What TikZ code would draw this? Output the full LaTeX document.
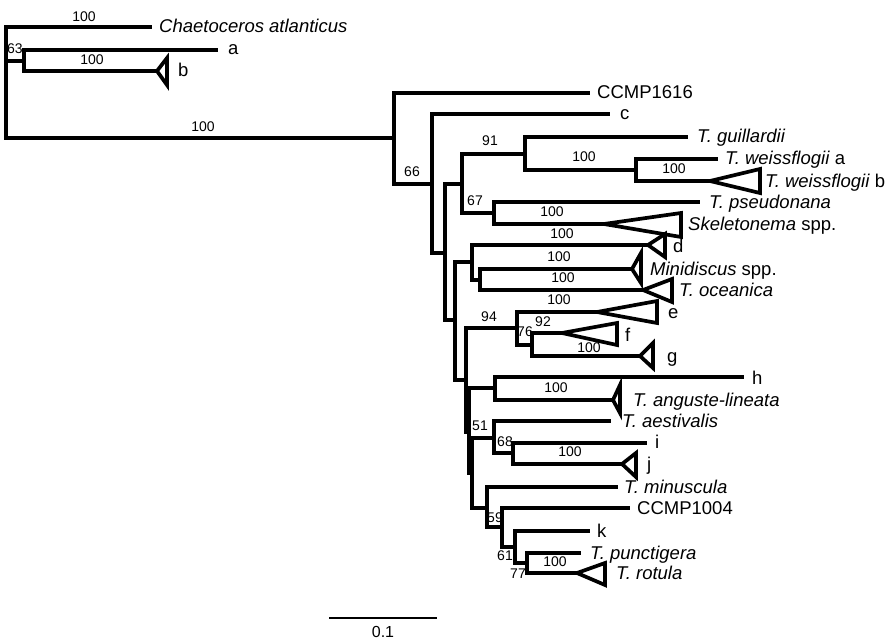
\documentclass[tikz,border=0pt]{standalone}
\usepackage{fontspec}
\setmainfont{Liberation Sans}
\begin{document}
\begin{tikzpicture}[x=1pt,y=-1pt,
  br/.style={line width=3.7pt},
  tri/.style={line width=3.7pt, line join=miter},
  taxon/.style={font=\fontsize{18.5}{20}\selectfont, anchor=base west, inner sep=0pt},
  bs/.style={font=\fontsize{14}{15}\selectfont, inner sep=0pt}]
\useasboundingbox (0,0) rectangle (892,642);
% internal nodes and tips
\coordinate (R) at (6,61);
\coordinate (chaet) at (152,27);
\coordinate (N63) at (24,61);
\coordinate (ta) at (218,50);
\coordinate (tb) at (157,71);
\coordinate (NI) at (394,138);
\coordinate (t1616) at (590,93);
\coordinate (N66) at (432,184);
\coordinate (tc) at (610,114);
\coordinate (N445) at (445,253);
\coordinate (N462) at (462,184);
\coordinate (N91) at (525,154);
\coordinate (tguil) at (688,137);
\coordinate (Nw) at (636,170);
\coordinate (twa) at (718,159);
\coordinate (twb) at (710,181);
\coordinate (N67) at (494,213);
\coordinate (tpseu) at (700,202);
\coordinate (tskel) at (604,224);
\coordinate (N455) at (455,320);
\coordinate (N472) at (472,262);
\coordinate (td) at (648,245);
\coordinate (N480) at (480,280);
\coordinate (tmini) at (632,269);
\coordinate (tocean) at (643,290);
\coordinate (N466) at (466,380);
\coordinate (N94) at (517,328);
\coordinate (te) at (597,312);
\coordinate (N76) at (532,345);
\coordinate (tf) at (562,333);
\coordinate (tg) at (640,356);
\coordinate (N469) at (469,432);
\coordinate (Nh) at (495,388);
\coordinate (th) at (744,377);
\coordinate (tang) at (613,400);
\coordinate (N472b) at (472,473);
\coordinate (N51) at (494,438);
\coordinate (taest) at (611,421);
\coordinate (N68) at (513,453);
\coordinate (ti) at (647,443);
\coordinate (tj) at (622,464);
\coordinate (N487) at (487,508);
\coordinate (tmin) at (618,487);
\coordinate (N59) at (502,527);
\coordinate (t1004) at (630,508);
\coordinate (N61) at (515,547);
\coordinate (tk) at (590,531);
\coordinate (N77) at (527,563);
\coordinate (tpunc) at (581,553);
\coordinate (trot) at (577,573);
% branches
\draw[br] (R) |- (chaet);
\draw[br] (R) |- (N63);
\draw[br] (R) |- (NI);
\draw[br] (N63) |- (ta);
\draw[br] (N63) |- (tb);
\draw[br] (NI) |- (t1616);
\draw[br] (NI) |- (N66);
\draw[br] (N66) |- (tc);
\draw[br] (N66) |- (N445);
\draw[br] (N445) |- (N462);
\draw[br] (N445) |- (N455);
\draw[br] (N462) |- (N91);
\draw[br] (N462) |- (N67);
\draw[br] (N91) |- (tguil);
\draw[br] (N91) |- (Nw);
\draw[br] (Nw) |- (twa);
\draw[br] (Nw) |- (twb);
\draw[br] (N67) |- (tpseu);
\draw[br] (N67) |- (tskel);
\draw[br] (N455) |- (N472);
\draw[br] (N455) |- (N466);
\draw[br] (N472) |- (td);
\draw[br] (N472) |- (N480);
\draw[br] (N480) |- (tmini);
\draw[br] (N480) |- (tocean);
\draw[br] (N466) |- (N94);
\draw[br] (N466) |- (N469);
\draw[br] (N94) |- (te);
\draw[br] (N94) |- (N76);
\draw[br] (N76) |- (tf);
\draw[br] (N76) |- (tg);
\draw[br] (N469) |- (Nh);
\draw[br] (N469) |- (N472b);
\draw[br] (Nh) |- (th);
\draw[br] (Nh) |- (tang);
\draw[br] (N472b) |- (N51);
\draw[br] (N472b) |- (N487);
\draw[br] (N51) |- (taest);
\draw[br] (N51) |- (N68);
\draw[br] (N68) |- (ti);
\draw[br] (N68) |- (tj);
\draw[br] (N487) |- (tmin);
\draw[br] (N487) |- (N59);
\draw[br] (N59) |- (t1004);
\draw[br] (N59) |- (N61);
\draw[br] (N61) |- (tk);
\draw[br] (N61) |- (N77);
\draw[br] (N77) |- (tpunc);
\draw[br] (N77) |- (trot);
% collapsed clades
\draw[tri] (tb) -- ++(10,-13) -- ++(0,27) -- cycle;
\draw[tri] (twb) -- ++(50,-12) -- ++(0,24) -- cycle;
\draw[tri] (tskel) -- ++(77,-11) -- ++(0,24) -- cycle;
\draw[tri] (td) -- ++(17,-11) -- ++(0,23) -- cycle;
\draw[tri] (tmini) -- ++(9,-16) -- ++(0,30) -- cycle;
\draw[tri] (tocean) -- ++(29,-11) -- ++(0,23) -- cycle;
\draw[tri] (te) -- ++(60,-11) -- ++(0,22) -- cycle;
\draw[tri] (tf) -- ++(55,-10) -- ++(0,22) -- cycle;
\draw[tri] (tg) -- ++(13,-13) -- ++(0,25) -- cycle;
\draw[tri] (tang) -- ++(7,-15) -- ++(0,28) -- cycle;
\draw[tri] (tj) -- ++(14,-11) -- ++(0,24) -- cycle;
\draw[tri] (trot) -- ++(28,-10) -- ++(0,22) -- cycle;
% taxon labels
\node[taxon] (Lchaet) at (159,33) {\textit{Chaetoceros atlanticus}};
\node[taxon] (La) at (228,55) {a};
\node[taxon] (Lb) at (178,77) {b};
\node[taxon] (L1616) at (597,99) {CCMP1616};
\node[taxon] (Lc) at (620,119) {c};
\node[taxon] (Lguil) at (697,142) {\textit{T. guillardii}};
\node[taxon] (Lwa) at (725,164) {\textit{T. weissflogii} a};
\node[taxon] (Lwb) at (765,187) {\textit{T. weissflogii} b};
\node[taxon] (Lpseu) at (709,208) {\textit{T. pseudonana}};
\node[taxon] (Lskel) at (688,230) {\textit{Skeletonema} spp.};
\node[taxon] (Ld) at (673,252) {d};
\node[taxon] (Lmini) at (650,275) {\textit{Minidiscus} spp.};
\node[taxon] (Locean) at (679,296) {\textit{T. oceanica}};
\node[taxon] (Le) at (668,318) {e};
\node[taxon] (Lf) at (625,341) {f};
\node[taxon] (Lg) at (667,362) {g};
\node[taxon] (Lh) at (752,384) {h};
\node[taxon] (Lang) at (633,406) {\textit{T. anguste-lineata}};
\node[taxon] (Laest) at (622,427) {\textit{T. aestivalis}};
\node[taxon] (Li) at (655,448) {i};
\node[taxon] (Lj) at (647,470) {j};
\node[taxon] (Lmin) at (624,493) {\textit{T. minuscula}};
\node[taxon] (L1004) at (637,514) {CCMP1004};
\node[taxon] (Lk) at (597,537) {k};
\node[taxon] (Lpunc) at (590,559) {\textit{T. punctigera}};
\node[taxon] (Lrot) at (616,579) {\textit{T. rotula}};
% support values
\node[bs] (b1) at (84,17) {100};
\node[bs] (b2) at (15,49) {63};
\node[bs] (b3) at (92,60) {100};
\node[bs] (b4) at (203,127) {100};
\node[bs] (b5) at (412,172) {66};
\node[bs] (b6) at (490,141) {91};
\node[bs] (b7) at (584,157) {100};
\node[bs] (b8) at (674,169) {100};
\node[bs] (b9) at (475,201) {67};
\node[bs] (b10) at (552,212) {100};
\node[bs] (b11) at (562,234) {100};
\node[bs] (b12) at (559,257) {100};
\node[bs] (b13) at (563,278) {100};
\node[bs] (b14) at (559,300) {100};
\node[bs] (b15) at (489,317) {94};
\node[bs] (b16) at (543,322) {92};
\node[bs] (b17) at (525,332) {76};
\node[bs] (b18) at (589,348) {100};
\node[bs] (b19) at (556,388) {100};
\node[bs] (b20) at (480,426) {51};
\node[bs] (b21) at (505,442) {68};
\node[bs] (b22) at (570,452) {100};
\node[bs] (b23) at (495,518) {59};
\node[bs] (b24) at (505,556) {61};
\node[bs] (b25) at (518,574) {77};
\node[bs] (b26) at (555,562) {100};
% scale bar
\coordinate (sb1) at (329,618);
\coordinate (sb2) at (437,618);
\draw[line width=2pt] (sb1) -- (sb2);
\node[font=\fontsize{16}{17}\selectfont, inner sep=0pt] (sblab) at (383,632) {0.1};
\end{tikzpicture}
\end{document}
